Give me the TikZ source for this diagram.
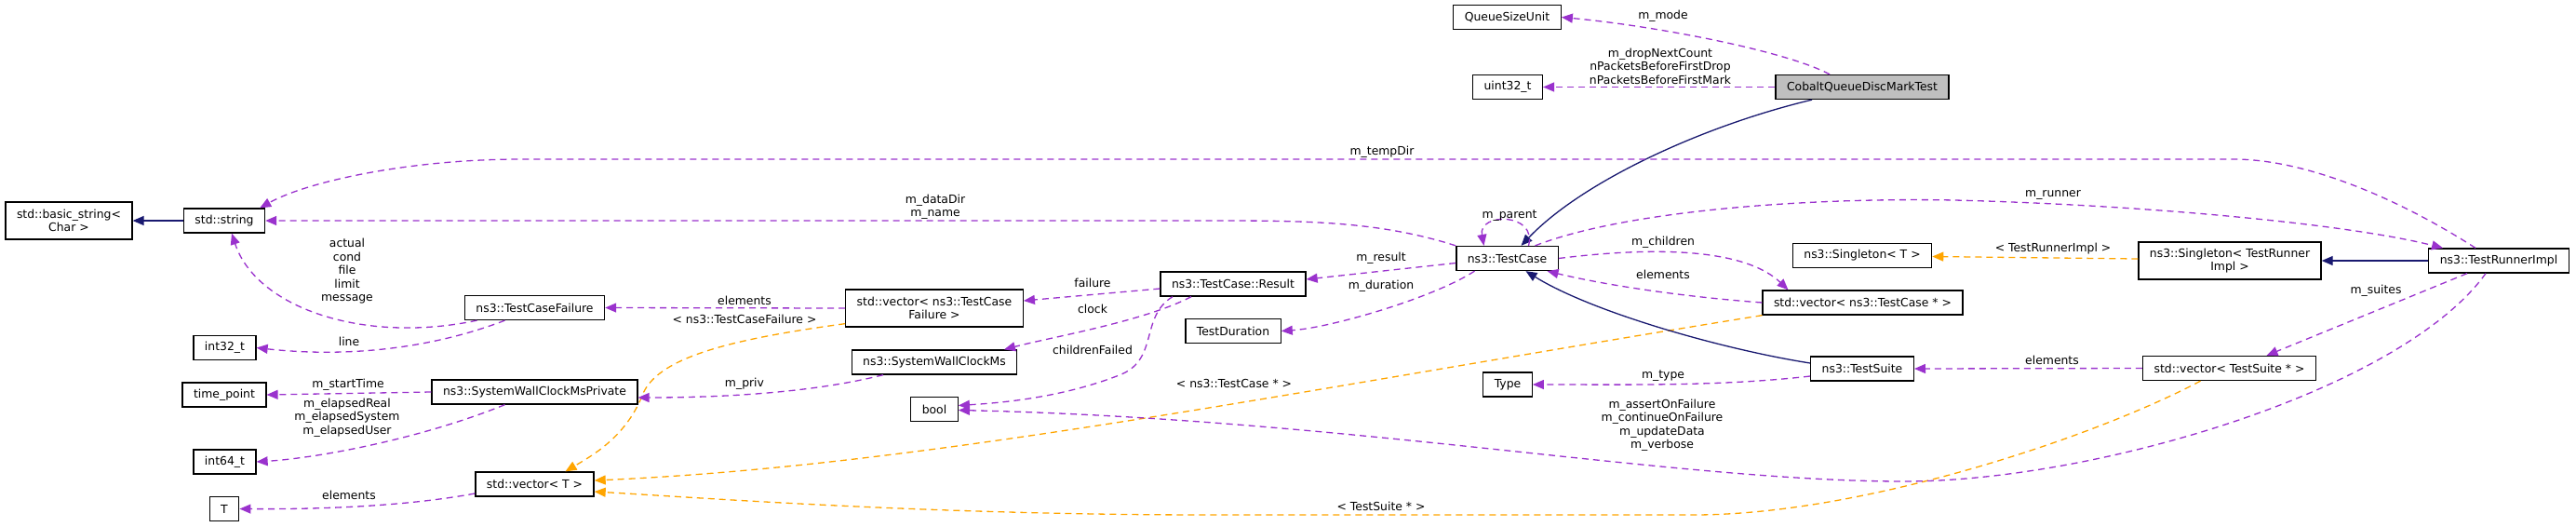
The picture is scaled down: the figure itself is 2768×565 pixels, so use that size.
\documentclass[tikz,border=0pt]{standalone}
\usepackage{fontspec}
\setmainfont{DejaVu Sans}
\usetikzlibrary{arrows.meta}
\definecolor{edgepurple}{HTML}{9A32CD}
\definecolor{edgeorange}{HTML}{FFA500}
\definecolor{edgenavy}{HTML}{191970}
\definecolor{selfgray}{HTML}{BFBFBF}
\newcommand{\dxfont}{\fontsize{12.4}{14.5}\selectfont}

\begin{document}
\begin{tikzpicture}[x=1pt,y=-1pt,
    cls/.style={draw=black, line width=1.3pt, fill=white, inner xsep=12pt, inner ysep=2pt, minimum height=26pt, font=\dxfont, align=center},
    twoline/.style={cls, minimum height=40pt},
    lbl/.style={font=\dxfont, align=center, inner sep=0pt},
    mem/.style={draw=edgepurple, line width=1.3pt, dash pattern=on 7pt off 5pt, -{Triangle[length=12pt,width=10pt]}},
    tpl/.style={mem, draw=edgeorange},
    inh/.style={draw=edgenavy, line width=1.3pt, -{Triangle[length=12pt,width=10pt]}}]
    \useasboundingbox (0,0) rectangle (2768,565);
			\node[cls, fill=selfgray] (cobalt) at (2001,93.5) {CobaltQueueDiscMarkTest};
			\node[cls] (qsu) at (1619.5,18.5) {QueueSizeUnit};
			\node[cls] (u32) at (1620,93.5) {uint32\_t};
			\node[twoline] (bstr) at (74,237) {std::basic\_string<\\Char >};
			\node[cls] (str) at (241,237) {std::string};
			\node[cls] (tcf) at (574.5,330.5) {ns3::TestCaseFailure};
			\node[cls] (i32) at (241.5,373.5) {int32\_t};
			\node[cls] (tp) at (241,424) {time\_point};
			\node[cls] (swcmp) at (574.5,421) {ns3::SystemWallClockMsPrivate};
			\node[cls] (i64) at (241.5,496) {int64\_t};
			\node[cls] (vecT) at (574.5,520) {std::vector< T >};
			\node[cls] (T) at (241,546.5) {T};
			\node[twoline] (vtcf) at (1004,331) {std::vector< ns3::TestCase\\Failure >};
			\node[cls] (swcm) at (1004,389) {ns3::SystemWallClockMs};
			\node[cls] (bool) at (1004,439.5) {bool};
			\node[cls] (result) at (1325,305) {ns3::TestCase::Result};
			\node[cls] (dur) at (1325,355.5) {TestDuration};
			\node[cls] (tc) at (1619.5,277.5) {ns3::TestCase};
			\node[cls] (type) at (1620,413) {Type};
			\node[cls] (sgT) at (2001,274.5) {ns3::Singleton< T >};
			\node[cls] (vtc) at (2001.5,325) {std::vector< ns3::TestCase * >};
			\node[cls] (ts) at (2001,396) {ns3::TestSuite};
			\node[twoline] (sgR) at (2396,280) {ns3::Singleton< TestRunner\\Impl >};
			\node[cls] (tri) at (2685,280) {ns3::TestRunnerImpl};
			\node[cls] (vts) at (2395.5,395.5) {std::vector< TestSuite * >};
			\draw[mem] ([xshift=-35]cobalt.north) .. controls (1920,55) and (1780,28) .. (qsu.east);
			\draw[mem] (cobalt.west) -- (u32.east);
			\draw[inh] ([xshift=-54]cobalt.south) .. controls (1830,135) and (1700,195) .. ([xshift=15]tc.north);
			\draw[mem] (tc.north west) .. controls (1480,237) and (1400,237) .. (1300,237) -- (str.east);
			\draw[mem] ([xshift=-25]tri.north) .. controls (2580,215) and (2480,171) .. (2400,171) -- (560,171) .. controls (440,171) and (330,195) .. ([xshift=-6]str.north east);
			\draw[mem] ([xshift=23]tc.north) .. controls (1652,228) and (1588,228) .. ([xshift=-25]tc.north);
			\draw[mem] ([yshift=-5]tc.west) -- ([yshift=5]result.east);
			\draw[mem] ([xshift=-35]tc.south) .. controls (1540,320) and (1430,352) .. (dur.east);
			\draw[mem] (tc.east) .. controls (1800,262) and (1880,272) .. ([xshift=-80]vtc.north);
			\draw[mem] (vtc.west) .. controls (1800,318) and (1720,305) .. ([xshift=43]tc.south);
			\draw[mem] ([xshift=30]tc.north) .. controls (1750,225) and (1950,212) .. (2100,215) .. controls (2300,220) and (2520,240) .. ([xshift=-60]tri.north);
			\draw[mem] ([yshift=-5]result.west) -- ([yshift=8]vtcf.east);
			\draw[mem] ([xshift=-45]result.south) .. controls (1230,345) and (1130,362) .. ([xshift=75]swcm.north);
			\draw[mem] ([xshift=-65]result.south) .. controls (1225,340) and (1245,385) .. (1205,402) .. controls (1140,428) and (1070,433) .. ([yshift=4]bool.east);
			\draw[mem] (vtcf.west) -- (tcf.east);
			\draw[tpl] ([yshift=4]vtcf.south west) .. controls (780,365) and (705,385) .. (690,425) .. controls (672,470) and (635,490) .. ([xshift=33]vecT.north);
			\draw[mem] ([xshift=-62]tcf.south) .. controls (390,370) and (275,330) .. ([xshift=8]str.south);
			\draw[mem] ([xshift=-32]tcf.south) .. controls (470,372) and (380,385) .. (i32.east);
			\draw[mem] ([xshift=-55]swcm.south) .. controls (880,420) and (790,427) .. ([yshift=-6]swcmp.east);
			\draw[mem] (swcmp.west) -- (tp.east);
			\draw[mem] ([xshift=-32]swcmp.south) .. controls (450,472) and (340,492) .. (i64.east);
			\draw[mem] ([yshift=-10]vecT.west) .. controls (430,545) and (330,547) .. (T.east);
			\draw[tpl] ([xshift=-108]vtc.south) .. controls (1400,418) and (1000,500) .. ([yshift=4]vecT.east);
			\draw[tpl] ([xshift=-31]vts.south) .. controls (2250,470) and (2000,553) .. (1820,553) -- (1300,553) .. controls (1000,553) and (760,535) .. ([yshift=-8]vecT.east);
			\draw[mem] ([xshift=-14]tri.south) .. controls (2580,420) and (2250,517) .. (2046,517) .. controls (1800,517) and (1450,450) .. ([yshift=-1]bool.east);
			\draw[mem] ([xshift=-34]tri.south) -- ([xshift=40]vts.north);
			\draw[mem] (vts.west) -- (ts.east);
			\draw[mem] ([yshift=-8]ts.west) .. controls (1850,415) and (1750,413) .. (type.east);
			\draw[inh] ([yshift=6]ts.west) .. controls (1850,375) and (1710,335) .. ([xshift=20]tc.south);
			\draw[inh] (tri.west) -- (sgR.east);
			\draw[tpl] ([yshift=2]sgR.west) -- ([yshift=-1]sgT.east);
			\draw[inh] (str.west) -- (bstr.east);
			\node[lbl] (lmode) at (1787,17) {m\_mode};
			\node[lbl] (ldrop) at (1784,71) {m\_dropNextCount\\nPacketsBeforeFirstDrop\\nPacketsBeforeFirstMark};
			\node[lbl] (ltemp) at (1485,163) {m\_tempDir};
			\node[lbl] (ldata) at (1005,222) {m\_dataDir\\m\_name};
			\node[lbl] (lrunner) at (2206,209) {m\_runner};
			\node[lbl] (lparent) at (1622,232) {m\_parent};
			\node[lbl] (lresult) at (1484,277) {m\_result};
			\node[lbl] (ldur) at (1484,307) {m\_duration};
			\node[lbl] (lchild) at (1787,260) {m\_children};
			\node[lbl] (lelemtc) at (1787,295) {elements};
			\node[lbl] (lsgl) at (2206,267) {< TestRunnerImpl >};
			\node[lbl] (lsuites) at (2553,312) {m\_suites};
			\node[lbl] (lelemts) at (2205,387) {elements};
			\node[lbl] (ltype) at (1787,404) {m\_type};
			\node[lbl] (lassert) at (1786,456.5) {m\_assertOnFailure\\m\_continueOnFailure\\m\_updateData\\m\_verbose};
			\node[lbl] (lvtc) at (1326,412) {< ns3::TestCase * >};
			\node[lbl] (lvts) at (1484,544) {< TestSuite * >};
			\node[lbl] (lfail) at (1174,304) {failure};
			\node[lbl] (lclock) at (1174,332) {clock};
			\node[lbl] (lchf) at (1174,376) {childrenFailed};
			\node[lbl] (lelemtcf) at (800,323) {elements};
			\node[lbl] (lvtcf) at (800,343) {< ns3::TestCaseFailure >};
			\node[lbl] (lpriv) at (800,412) {m\_priv};
			\node[lbl] (lstr) at (373,291.5) {actual\\cond\\file\\limit\\message};
			\node[lbl] (lline) at (375,367) {line};
			\node[lbl] (lstart) at (374,413) {m\_startTime};
			\node[lbl] (lelapsed) at (373,448.5) {m\_elapsedReal\\m\_elapsedSystem\\m\_elapsedUser};
			\node[lbl] (lelemT) at (375,532) {elements};
		\end{tikzpicture}
\end{document}
